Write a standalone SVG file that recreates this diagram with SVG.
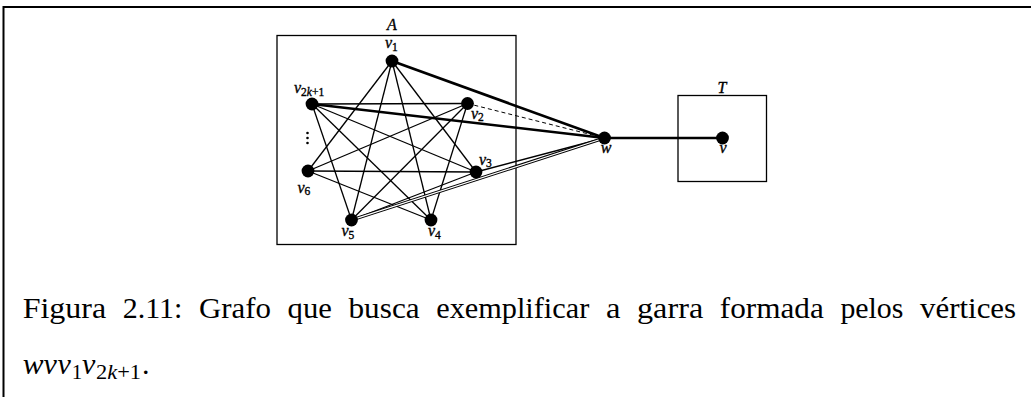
<svg xmlns="http://www.w3.org/2000/svg" width="1031" height="397" viewBox="0 0 1031 397">
  <style>
    .frame { stroke: #000; stroke-width: 2; fill: none; }
    .box { stroke: #000; stroke-width: 1.3; fill: none; }
    .edge { stroke: #000; stroke-width: 1.3; fill: none; }
    .thick { stroke: #000; stroke-width: 2.6; fill: none; }
    .dash { stroke: #000; stroke-width: 1; stroke-dasharray: 4 3; fill: none; }
    .dbl-out { stroke: #000; stroke-width: 3.2; fill: none; }
    .dbl-in { stroke: #fff; stroke-width: 1.2; fill: none; }
    .dot { fill: #000; }
    .lbl { font-family: "Liberation Serif", "DejaVu Serif", serif; font-style: italic; font-size: 16px; fill: #000; stroke: #000; stroke-width: 0.35; }
    .sub { font-size: 11.5px; font-style: normal; }
    .subi { font-size: 11.5px; font-style: italic; }
    .cap { font-family: "Liberation Serif", "DejaVu Serif", serif; font-size: 30px; fill: #000; }
    .capm { font-family: "Liberation Serif", "DejaVu Serif", serif; font-style: italic; font-size: 30px; fill: #000; }
    .capsub { font-family: "Liberation Serif", "DejaVu Serif", serif; font-size: 21px; fill: #000; }
    .capsubi { font-family: "Liberation Serif", "DejaVu Serif", serif; font-size: 21px; font-style: italic; fill: #000; }
  </style>

  <!-- page frame -->
  <line class="frame" x1="3" y1="7" x2="1031" y2="7"/>
  <line class="frame" x1="3.5" y1="6" x2="3.5" y2="397"/>

  <!-- cluster boxes -->
  <g id="box-A">
    <rect class="box" x="277" y="35.5" width="239" height="209"/>
    <text class="lbl" x="392" y="29.5" text-anchor="middle" font-size="15">A</text>
  </g>
  <g id="box-T">
    <rect class="box" x="678" y="95.5" width="88.5" height="86"/>
    <text class="lbl" x="722" y="92.5" text-anchor="middle" font-size="15">T</text>
  </g>

  <!-- connectors -->
  <g id="edges">
    <!-- complement of the 7-cycle v1 v2 v3 v4 v5 v6 v2k+1 -->
    <line class="edge" x1="392" y1="61" x2="476" y2="172"/>
    <line class="edge" x1="392" y1="61" x2="431" y2="220"/>
    <line class="edge" x1="392" y1="61" x2="351.5" y2="220"/>
    <line class="edge" x1="392" y1="61" x2="308" y2="171"/>
    <line class="edge" x1="467.5" y1="103.5" x2="431" y2="220"/>
    <line class="edge" x1="467.5" y1="103.5" x2="351.5" y2="220"/>
    <line class="edge" x1="467.5" y1="103.5" x2="308" y2="171"/>
    <line class="edge" x1="467.5" y1="103.5" x2="312" y2="104"/>
    <line class="edge" x1="476" y1="172" x2="351.5" y2="220"/>
    <line class="edge" x1="476" y1="172" x2="308" y2="171"/>
    <line class="edge" x1="476" y1="172" x2="312" y2="104"/>
    <line class="edge" x1="431" y1="220" x2="308" y2="171"/>
    <line class="edge" x1="431" y1="220" x2="312" y2="104"/>
    <line class="edge" x1="351.5" y1="220" x2="312" y2="104"/>
    <!-- claw and links to w -->
    <line class="thick" x1="392" y1="61" x2="604.5" y2="138"/>
    <line class="thick" x1="312" y1="104" x2="604.5" y2="138"/>
    <line class="dash" x1="467.5" y1="103.5" x2="604.5" y2="138"/>
    <line class="edge" x1="476" y1="172" x2="604.5" y2="138"/>
    <line class="dbl-out" x1="351.5" y1="220" x2="604.5" y2="138"/>
    <line class="dbl-in" x1="355" y1="218.9" x2="600" y2="139.5"/>
    <line class="thick" x1="604.5" y1="138" x2="722.5" y2="138" stroke-width="2.2"/>
  </g>

  <!-- vertices -->
  <g id="v1">
    <circle class="dot" cx="392" cy="61" r="6.4"/>
    <text class="lbl" x="385" y="48">v<tspan class="sub" dy="2.5">1</tspan></text>
  </g>
  <g id="v2">
    <circle class="dot" cx="467.5" cy="103.5" r="6.4"/>
    <text class="lbl" x="471" y="118.5">v<tspan class="sub" dy="2.5">2</tspan></text>
  </g>
  <g id="v3">
    <circle class="dot" cx="476" cy="172" r="6.4"/>
    <text class="lbl" x="479" y="164.5">v<tspan class="sub" dy="2.5">3</tspan></text>
  </g>
  <g id="v4">
    <circle class="dot" cx="431" cy="220" r="6.4"/>
    <text class="lbl" x="428" y="236">v<tspan class="sub" dy="2.5">4</tspan></text>
  </g>
  <g id="v5">
    <circle class="dot" cx="351.5" cy="220" r="6.4"/>
    <text class="lbl" x="341.5" y="236">v<tspan class="sub" dy="2.5">5</tspan></text>
  </g>
  <g id="v6">
    <circle class="dot" cx="308" cy="171" r="6.4"/>
    <text class="lbl" x="297.5" y="192.5">v<tspan class="sub" dy="2.5">6</tspan></text>
  </g>
  <g id="v2k1">
    <circle class="dot" cx="312" cy="104" r="6.4"/>
    <text class="lbl" x="294" y="92.5">v<tspan class="sub" dy="3">2</tspan><tspan class="subi">k</tspan><tspan class="sub">+1</tspan></text>
    <circle class="dot" cx="307.5" cy="133" r="1.3"/>
    <circle class="dot" cx="307.5" cy="138" r="1.3"/>
    <circle class="dot" cx="307.5" cy="143" r="1.3"/>
  </g>
  <g id="w">
    <circle class="dot" cx="604.5" cy="138" r="6.4"/>
    <text class="lbl" x="606" y="152.5" text-anchor="middle">w</text>
  </g>
  <g id="v">
    <circle class="dot" cx="722.5" cy="138" r="6.4"/>
    <text class="lbl" x="723" y="152.5" text-anchor="middle">v</text>
  </g>

  <!-- caption, one word per text run, justified to the line width -->
  <g id="caption">
    <text class="cap" x="22.7" y="318" textLength="83.5" lengthAdjust="spacingAndGlyphs">Figura</text>
    <text class="cap" x="122.8" y="318" textLength="59.6" lengthAdjust="spacingAndGlyphs">2.11:</text>
    <text class="cap" x="199" y="318" textLength="72" lengthAdjust="spacingAndGlyphs">Grafo</text>
    <text class="cap" x="287.6" y="318" textLength="44.3" lengthAdjust="spacingAndGlyphs">que</text>
    <text class="cap" x="348.5" y="318" textLength="71.1" lengthAdjust="spacingAndGlyphs">busca</text>
    <text class="cap" x="436.2" y="318" textLength="153.1" lengthAdjust="spacingAndGlyphs">exemplificar</text>
    <text class="cap" x="605.9" y="318" textLength="14.5" lengthAdjust="spacingAndGlyphs">a</text>
    <text class="cap" x="637" y="318" textLength="66.2" lengthAdjust="spacingAndGlyphs">garra</text>
    <text class="cap" x="719.8" y="318" textLength="104" lengthAdjust="spacingAndGlyphs">formada</text>
    <text class="cap" x="840.4" y="318" textLength="63" lengthAdjust="spacingAndGlyphs">pelos</text>
    <text class="cap" x="920" y="318" textLength="96.1" lengthAdjust="spacingAndGlyphs">vértices</text>

    <text class="capm" x="22.7" y="374" textLength="20.8" lengthAdjust="spacingAndGlyphs">w</text>
    <text class="capm" x="43.5" y="374">v</text>
    <text class="capm" x="57.6" y="374">v</text>
    <text class="capsub" x="71.7" y="378.5">1</text>
    <text class="capm" x="81.9" y="374">v</text>
    <text class="capsub" x="96" y="379" textLength="45" lengthAdjust="spacingAndGlyphs">2<tspan class="capsubi">k</tspan>+1</text>
    <text class="cap" x="142" y="374">.</text>
  </g>
</svg>
